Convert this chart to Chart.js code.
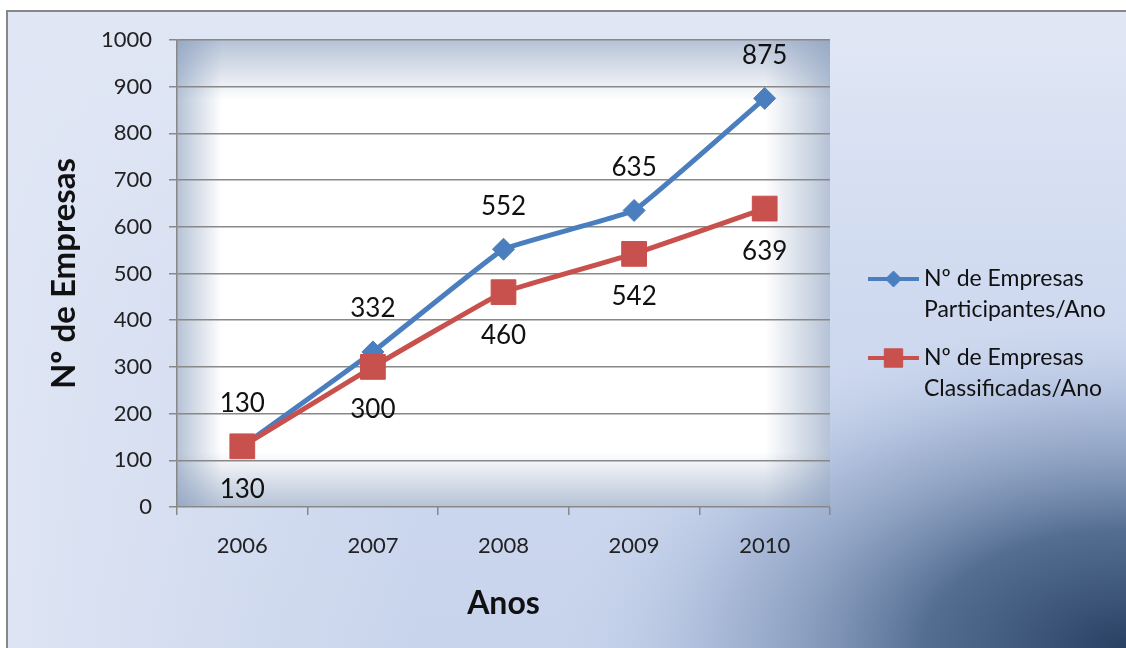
<!DOCTYPE html>
<html>
<head>
<meta charset="utf-8">
<script src="https://cdn.jsdelivr.net/npm/chart.js@4.4.1/dist/chart.umd.min.js"></script>
<style>
html, body { margin: 0; padding: 0; background: #fff; }
#wrap { width: 1126px; height: 648px; }
</style>
</head>
<body>
<div id="wrap"><canvas id="mainChart" width="1126" height="648"></canvas></div>
<script>
// data
var anos = ['2006', '2007', '2008', '2009', '2010'];
var participantes = [130, 332, 552, 635, 875];
var classificadas = [130, 300, 460, 542, 639];
var legendParticipantes = ['Nº de Empresas', 'Participantes/Ano'];
var legendClassificadas = ['Nº de Empresas', 'Classificadas/Ano'];
var yMin = 0, yMax = 1000, yStep = 100;

var blue = '#4a7ebf';
var red = '#c8504d';

Chart.defaults.font.family = 'Lato';

// backgrounds: outer area + plot area
var bgPlugin = {
    id: 'bg',
    beforeDraw: function(chart) {
        var ctx = chart.ctx, W = chart.width, H = chart.height;
        var a = chart.chartArea;
        ctx.save();
        ctx.fillStyle = '#fff';
        ctx.fillRect(0, 0, W, H);

        var g = ctx.createLinearGradient(0, 10, 0, H);
        g.addColorStop(0, '#e1e7f4');
        g.addColorStop(0.45, '#cfdaf0');
        g.addColorStop(1, '#c8d4ec');
        ctx.fillStyle = g;
        ctx.fillRect(6, 10, W, H);

        var gl = ctx.createLinearGradient(6, 0, 420, 0);
        gl.addColorStop(0, 'rgba(224,230,244,0.9)');
        gl.addColorStop(1, 'rgba(224,230,244,0)');
        ctx.fillStyle = gl;
        ctx.fillRect(6, 10, 420, H);

        // dark corner bottom right
        ctx.save();
        ctx.translate(W, H);
        ctx.scale(580, 340);
        var rg = ctx.createRadialGradient(0, 0, 0, 0, 0, 1);
        rg.addColorStop(0, 'rgba(40,64,98,1)');
        rg.addColorStop(0.35, 'rgba(68,96,134,0.88)');
        rg.addColorStop(0.7, 'rgba(128,150,188,0.45)');
        rg.addColorStop(1, 'rgba(200,212,236,0)');
        ctx.fillStyle = rg;
        ctx.fillRect(-1.2, -1.2, 1.2, 1.2);
        ctx.restore();

        // outer border (left + top)
        ctx.strokeStyle = '#878787';
        ctx.lineWidth = 2;
        ctx.beginPath();
        ctx.moveTo(7, H);
        ctx.lineTo(7, 11);
        ctx.lineTo(W, 11);
        ctx.stroke();

        // plot area
        ctx.fillStyle = '#ffffff';
        ctx.fillRect(a.left, a.top, a.width, a.height);
        var c0 = 'rgba(128,150,184,0.58)', c1 = 'rgba(128,150,184,0)';
        var e;
        e = ctx.createLinearGradient(a.left, 0, a.left + 45, 0);
        e.addColorStop(0, c0); e.addColorStop(1, c1);
        ctx.fillStyle = e; ctx.fillRect(a.left, a.top, 45, a.height);
        e = ctx.createLinearGradient(a.right, 0, a.right - 65, 0);
        e.addColorStop(0, c0); e.addColorStop(1, c1);
        ctx.fillStyle = e; ctx.fillRect(a.right - 65, a.top, 65, a.height);
        e = ctx.createLinearGradient(0, a.top, 0, a.top + 60);
        e.addColorStop(0, c0); e.addColorStop(1, c1);
        ctx.fillStyle = e; ctx.fillRect(a.left, a.top, a.width, 60);
        e = ctx.createLinearGradient(0, a.bottom, 0, a.bottom - 55);
        e.addColorStop(0, c0); e.addColorStop(1, c1);
        ctx.fillStyle = e; ctx.fillRect(a.left, a.bottom - 55, a.width, 55);
        ctx.restore();
    }
};

// value labels, blue above, red below
var labelPlugin = {
    id: 'valueLabels',
    afterDatasetsDraw: function(chart) {
        var ctx = chart.ctx;
        ctx.save();
        ctx.font = '26px Lato';
        ctx.fillStyle = '#111';
        ctx.textAlign = 'center';
        ctx.textBaseline = 'middle';
        chart.data.datasets.forEach(function(ds, i) {
            var meta = chart.getDatasetMeta(i);
            meta.data.forEach(function(pt, j) {
                ctx.fillText(String(ds.data[j]), pt.x, pt.y + ds.labelOffset);
            });
        });
        ctx.restore();
    }
};

// legend on the right, two lines per entry
var legendPlugin = {
    id: 'sideLegend',
    afterDraw: function(chart) {
        var ctx = chart.ctx;
        var x0 = 868, x1 = 919, tx = 924;
        var rows = [279, 358];
        ctx.save();
        chart.data.datasets.forEach(function(ds, i) {
            var y = rows[i];
            ctx.strokeStyle = ds.borderColor;
            ctx.lineWidth = 4;
            ctx.beginPath();
            ctx.moveTo(x0, y);
            ctx.lineTo(x1, y);
            ctx.stroke();
            ctx.fillStyle = ds.borderColor;
            ctx.strokeStyle = ds.borderColor;
            ctx.lineWidth = 1;
            Chart.helpers.drawPoint(ctx, {
                pointStyle: ds.pointStyle,
                radius: ds.pointStyle === 'rect' ? 13 : 8,
                borderWidth: 1,
                rotation: 0
            }, (x0 + x1) / 2, y);
            ctx.fillStyle = '#111';
            ctx.font = '23px Lato';
            ctx.textAlign = 'left';
            ctx.textBaseline = 'middle';
            ds.legendLines.forEach(function(t, k) {
                ctx.fillText(t, tx, y + k * 31);
            });
        });
        ctx.restore();
    }
};

var ctx = document.getElementById('mainChart').getContext('2d');
var chart = new Chart(ctx, {
    type: 'line',
    data: {
        labels: anos,
        datasets: [{
            label: legendParticipantes.join(' '),
            legendLines: legendParticipantes,
            data: participantes,
            borderColor: blue,
            backgroundColor: blue,
            borderWidth: 5,
            pointStyle: 'rectRot',
            pointRadius: 11,
            pointBorderWidth: 1,
            tension: 0.08,
            labelOffset: -43,
            order: 1
        }, {
            label: legendClassificadas.join(' '),
            legendLines: legendClassificadas,
            data: classificadas,
            borderColor: red,
            backgroundColor: red,
            borderWidth: 5,
            pointStyle: 'rect',
            pointRadius: 17.5,
            pointBorderWidth: 1,
            tension: 0.08,
            labelOffset: 43,
            order: 0
        }]
    },
    options: {
        responsive: false,
        animation: false,
        devicePixelRatio: 1,
        events: [],
        layout: { padding: { left: 0, top: 40, right: 296, bottom: 0 } },
        plugins: {
            legend: { display: false },
            tooltip: { enabled: false }
        },
        scales: {
            x: {
                offset: true,
                grid: {
                    offset: true,
                    drawOnChartArea: false,
                    drawTicks: true,
                    tickLength: 8,
                    color: '#888',
                    lineWidth: 1.5
                },
                border: { display: false },
                ticks: { color: '#222', font: { size: 22 }, padding: 18 },
                title: {
                    display: true,
                    text: 'Anos',
                    color: '#111',
                    font: { size: 32, weight: 'bold' },
                    padding: { top: 0, bottom: 25 }
                },
                afterFit: function(s) { s.height = 141; }
            },
            y: {
                min: yMin,
                max: yMax,
                ticks: {
                    stepSize: yStep,
                    color: '#222',
                    font: { size: 22 },
                    padding: 17,
                    callback: function(v) { return String(v); }
                },
                grid: { color: '#888', lineWidth: 1.5, tickLength: 8 },
                border: { display: true, color: '#888', width: 1.5 },
                title: {
                    display: true,
                    text: 'Nº de Empresas',
                    color: '#111',
                    font: { size: 33, weight: 'bold' },
                    padding: { top: 45, bottom: 0 }
                },
                afterFit: function(s) { s.width = 177; }
            }
        }
    },
    plugins: [bgPlugin, labelPlugin, legendPlugin]
});
</script>
</body>
</html>
